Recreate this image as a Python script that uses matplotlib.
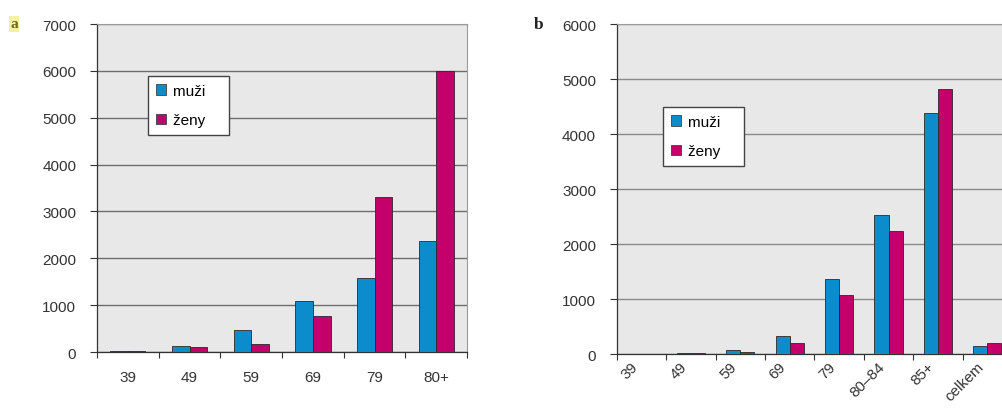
import numpy as np
import matplotlib
matplotlib.use("Agg")
import matplotlib.pyplot as plt
from matplotlib.patches import Patch

plt.rcParams['font.family'] = ['Liberation Sans', 'DejaVu Sans']

# Panel a: age groups up to 80+
cats_a = ["39", "49", "59", "69", "79", "80+"]
muzi_a = [30, 135, 470, 1095, 1590, 2375]
zeny_a = [25, 100, 170, 775, 3310, 6000]

# Panel b: finer split of the oldest groups plus total
cats_b = ["39", "49", "59", "69", "79", "80–84", "85+", "celkem"]
muzi_b = [5, 20, 80, 335, 1360, 2525, 4390, 150]
zeny_b = [5, 15, 30, 200, 1080, 2240, 4825, 195]

BLUE = "#0d8ccb"
MAGENTA = "#c4006a"
BG = "#e8e8e8"
W = 0.286
FS = 11

fig = plt.figure(figsize=(10.03, 4.10), dpi=100)


def draw(ax, cats, m, z, ymax, step, gridc):
    x = np.arange(len(cats))
    ax.set_facecolor(BG)
    ax.bar(x - W / 2, m, W, color=BLUE, edgecolor="#2a2a2a", linewidth=0.6, zorder=3)
    ax.bar(x + W / 2, z, W, color=MAGENTA, edgecolor="#2a2a2a", linewidth=0.6, zorder=3)
    ax.set_xlim(-0.5, len(cats) - 0.5)
    ax.set_ylim(0, ymax)
    ax.set_yticks(np.arange(0, ymax + 1, step))
    ax.yaxis.grid(True, color=gridc, linewidth=1.0, zorder=1)
    ax.set_axisbelow(True)
    ax.set_xticks(np.arange(len(cats) + 1) - 0.5)
    ax.set_xticklabels([])
    ax.tick_params(axis="x", direction="out", length=4, width=0.8, color="#333333")
    ax.tick_params(axis="y", direction="out", length=5, width=0.8, color="#333333",
                   labelsize=FS, labelcolor="#333333", pad=10)
    for s in ("top", "right"):
        ax.spines[s].set_color("#9a9a9a")
    for s in ("left", "bottom"):
        ax.spines[s].set_color("#333333")
        ax.spines[s].set_linewidth(0.9)
    return x


def add_legend(ax, anchor):
    leg = ax.legend(
        handles=[Patch(facecolor=BLUE, edgecolor="#2a2a2a", linewidth=0.5, label="muži"),
                 Patch(facecolor=MAGENTA, edgecolor="#2a2a2a", linewidth=0.5, label="ženy")],
        loc="upper left", bbox_to_anchor=anchor, frameon=True, fancybox=False,
        edgecolor="#444444", framealpha=1, fontsize=FS, handlelength=0.65,
        handleheight=0.65, handletextpad=0.45, labelspacing=1.0, borderpad=0.5,
        borderaxespad=0)
    leg.get_frame().set_linewidth(1.0)
    leg.set_zorder(5)
    # widen the box to the right of the labels
    for t in leg.get_texts():
        t.set_text(t.get_text() + "    ")
    return leg


# Panel a
ax1 = fig.add_axes([0.0967, 0.139, 0.369, 0.80])
x1 = draw(ax1, cats_a, muzi_a, zeny_a, 7000, 1000, "#6e6e6e")
for xi, lab in zip(x1, cats_a):
    ax1.text(xi, -0.075, lab, transform=ax1.get_xaxis_transform(), ha="center",
             va="center", fontsize=FS, color="#333333")
add_legend(ax1, (0.138, 0.841))
fig.text(0.014, 0.94, "a", fontsize=11, fontweight="bold", family="Liberation Serif",
         color="#6b6a1e", ha="center", va="center",
         bbox=dict(boxstyle="square,pad=0.1", facecolor="#f3f0a8", edgecolor="none"))

# Panel b
ax2 = fig.add_axes([0.615, 0.134, 0.394, 0.805])
x2 = draw(ax2, cats_b, muzi_b, zeny_b, 6000, 1000, "#8a8a8a")
for xi, lab in zip(x2, cats_b):
    ax2.text(xi - 0.12, -0.03, lab, transform=ax2.get_xaxis_transform(), ha="right",
             va="center", rotation=45, rotation_mode="anchor", fontsize=FS,
             color="#333333")
add_legend(ax2, (0.117, 0.748))
fig.text(0.537, 0.94, "b", fontsize=12.5, fontweight="bold", family="Liberation Serif",
         color="#222222", ha="center", va="center")

fig.savefig("out.png", dpi=100)
